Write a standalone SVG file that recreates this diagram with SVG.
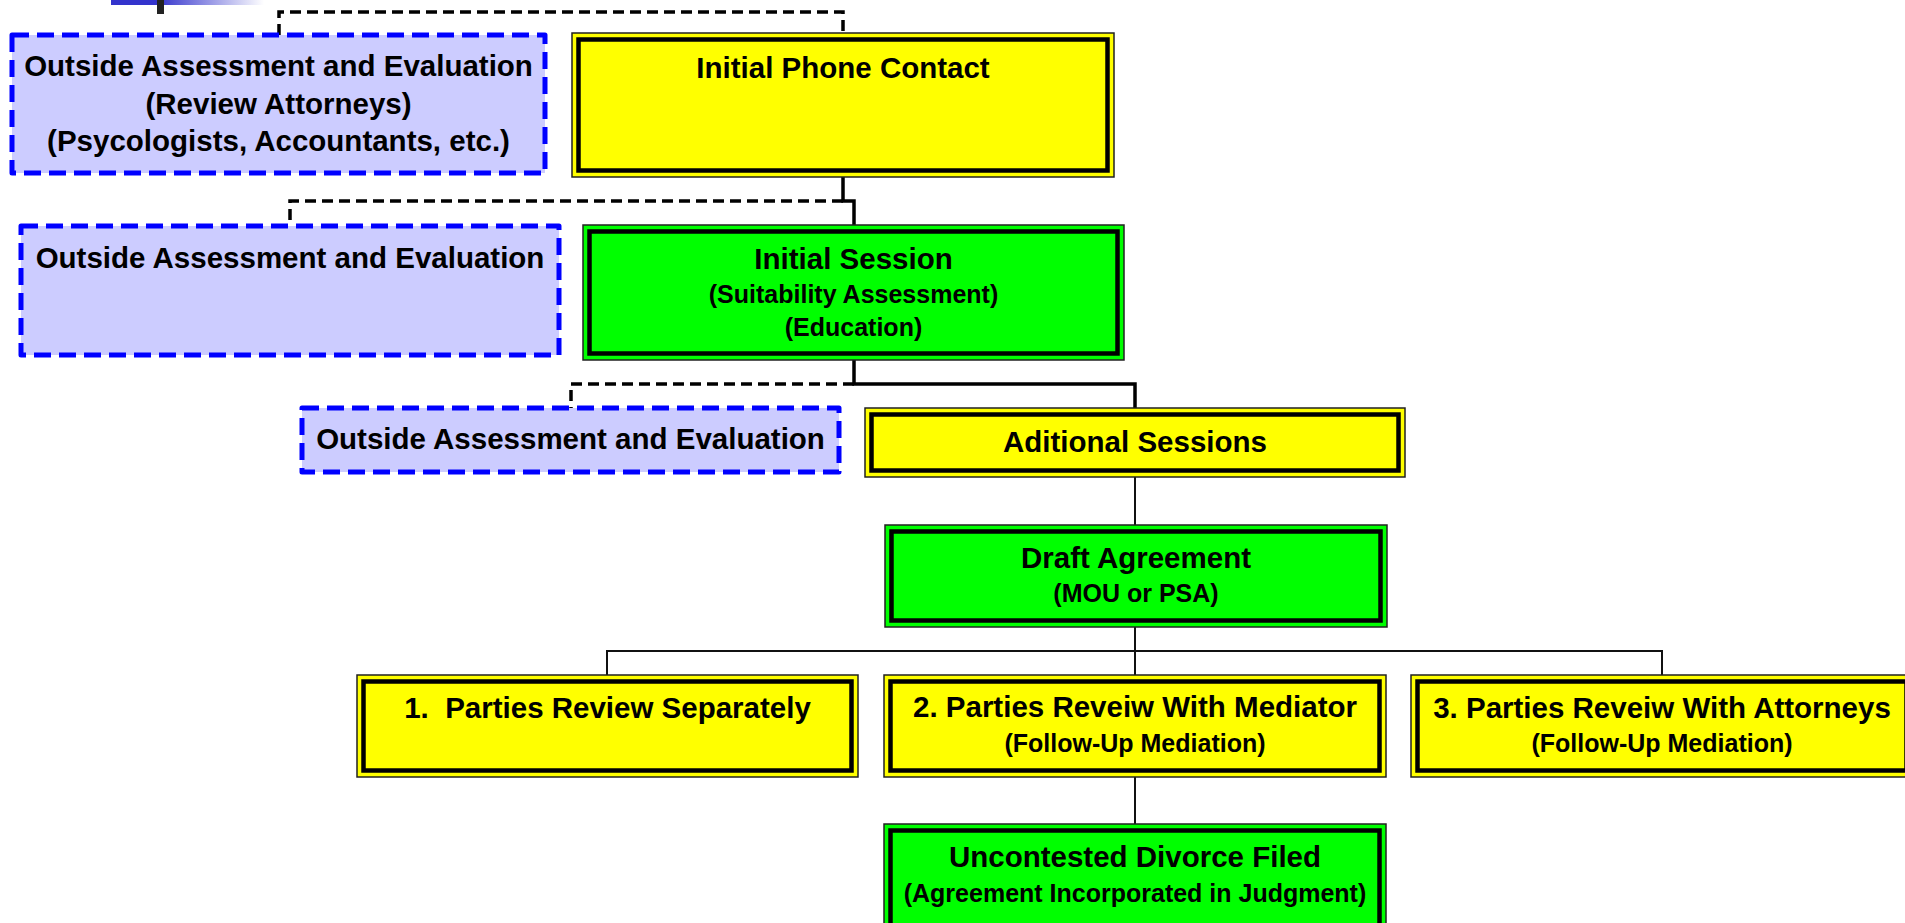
<svg xmlns="http://www.w3.org/2000/svg" width="1905" height="923" viewBox="0 0 1905 923">
<defs>
<linearGradient id="bar" x1="0" y1="0" x2="1" y2="0">
<stop offset="0" stop-color="#3333CC"/>
<stop offset="0.3" stop-color="#3333CC"/>
<stop offset="1" stop-color="#FFFFFF"/>
</linearGradient>
<style>
.yo{fill:#FFFF00;stroke:#222;stroke-width:1.5}
.go{fill:#00FF00;stroke:#222;stroke-width:1.5}
.in{fill:none;stroke:#000;stroke-width:4.5}
.bd{fill:#CCCCFF;stroke:#0000FF;stroke-width:5;stroke-dasharray:17 8;stroke-linejoin:round}
.t{font-family:"Liberation Sans",Arial,sans-serif;font-weight:bold;font-size:29.5px;text-anchor:middle;fill:#000;white-space:pre}
.s{font-size:25px}
.cd{fill:none;stroke:#000;stroke-width:3.5;stroke-dasharray:11 6}
.cs{fill:none;stroke:#000;stroke-width:3.5}
.ct{fill:none;stroke:#111;stroke-width:2}
</style>
</defs>
<rect width="1905" height="923" fill="#FFFFFF"/>
<g id="decor">
<rect x="111" y="0" width="153" height="5" fill="url(#bar)"/>
<rect x="157" y="0" width="7" height="14" fill="#222"/>
</g>
<g id="connectors">
<path class="cd" d="M279 35 V12 H843 V33"/>
<path class="cs" d="M843 177 V201 H854 V225"/>
<path class="cd" d="M843 201 H290 V226"/>
<path class="cs" d="M854 360 V384 H1135 V408"/>
<path class="cd" d="M854 384 H571 V408"/>
<path class="ct" d="M1135 477 V525"/>
<path class="ct" d="M1135 627 V675"/>
<path class="ct" d="M607 675 V651 H1662 V675"/>
<path class="ct" d="M1135 777 V824"/>
</g>
<g id="outside1">
<rect class="bd" x="12" y="35" width="533" height="138"/>
<text class="t" x="278.5" y="76">Outside Assessment and Evaluation</text>
<text class="t" x="278.5" y="114">(Review Attorneys)</text>
<text class="t" x="278.5" y="151">(Psycologists, Accountants, etc.)</text>
</g>
<g id="phone">
<rect class="yo" x="572" y="33" width="542" height="144"/>
<rect class="in" x="578.5" y="39.5" width="529" height="131"/>
<text class="t" x="843" y="78">Initial Phone Contact</text>
</g>
<g id="outside2">
<rect class="bd" x="21" y="226" width="538" height="129"/>
<text class="t" x="290" y="268">Outside Assessment and Evaluation</text>
</g>
<g id="initial">
<rect class="go" x="583" y="225" width="541" height="135"/>
<rect class="in" x="589.5" y="231.5" width="528" height="122"/>
<text class="t" x="853.5" y="269">Initial Session</text>
<text class="t s" x="853.5" y="303">(Suitability Assessment)</text>
<text class="t s" x="853.5" y="336">(Education)</text>
</g>
<g id="outside3">
<rect class="bd" x="302" y="408" width="537" height="64"/>
<text class="t" x="570.5" y="449">Outside Assessment and Evaluation</text>
</g>
<g id="additional">
<rect class="yo" x="865" y="408" width="540" height="69"/>
<rect class="in" x="871.5" y="414.5" width="527" height="56"/>
<text class="t" x="1135" y="452">Aditional Sessions</text>
</g>
<g id="draft">
<rect class="go" x="885" y="525" width="502" height="102"/>
<rect class="in" x="891.5" y="531.5" width="489" height="89"/>
<text class="t" x="1136" y="568">Draft Agreement</text>
<text class="t s" x="1136" y="602">(MOU or PSA)</text>
</g>
<g id="review1">
<rect class="yo" x="357" y="675" width="501" height="102"/>
<rect class="in" x="363.5" y="681.5" width="488" height="89"/>
<text class="t" x="607.5" y="718">1.  Parties Review Separately</text>
</g>
<g id="review2">
<rect class="yo" x="884" y="675" width="502" height="102"/>
<rect class="in" x="890.5" y="681.5" width="489" height="89"/>
<text class="t" x="1135" y="717">2. Parties Reveiw With Mediator</text>
<text class="t s" x="1135" y="752">(Follow-Up Mediation)</text>
</g>
<g id="review3">
<rect class="yo" x="1411" y="675" width="502" height="102"/>
<rect class="in" x="1417.5" y="681.5" width="489" height="89"/>
<text class="t" x="1662" y="718">3. Parties Reveiw With Attorneys</text>
<text class="t s" x="1662" y="752">(Follow-Up Mediation)</text>
</g>
<g id="divorce">
<rect class="go" x="884" y="824" width="502" height="110"/>
<rect class="in" x="890.5" y="830.5" width="489" height="97"/>
<text class="t" x="1135" y="867">Uncontested Divorce Filed</text>
<text class="t s" x="1135" y="902">(Agreement Incorporated in Judgment)</text>
</g>
</svg>
